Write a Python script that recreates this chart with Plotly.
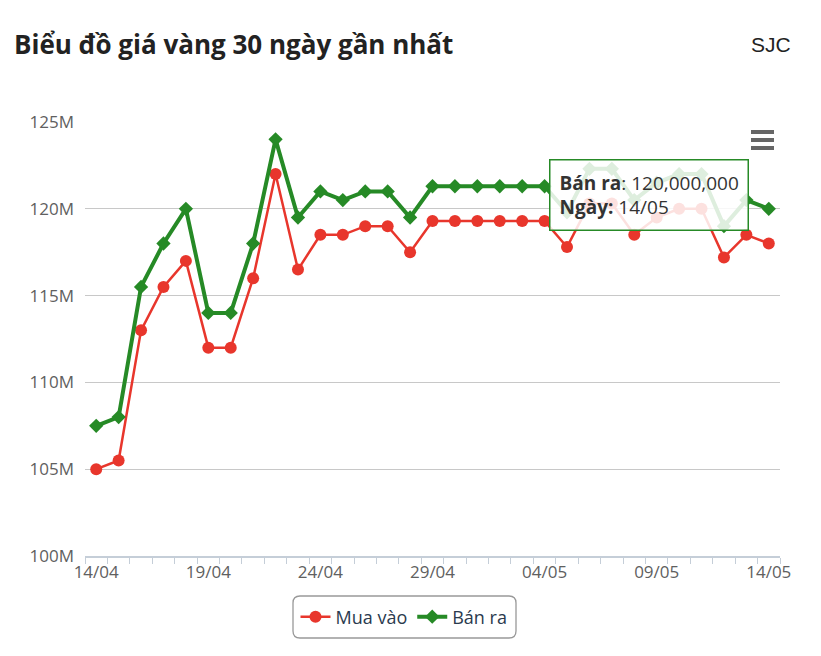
import plotly.graph_objects as go
import pandas as pd

# Data, values in million VND
dates = pd.date_range("2025-04-14", "2025-05-14", freq="D")

mua_vao = [
    105.0, 105.5, 113.0, 115.5, 117.0, 112.0, 112.0, 116.0, 122.0, 116.5,
    118.5, 118.5, 119.0, 119.0, 117.5, 119.3, 119.3, 119.3, 119.3, 119.3,
    119.3, 117.8, 120.3, 120.3, 118.5, 119.5, 120.0, 120.0, 117.2, 118.5,
    118.0,
]
ban_ra = [
    107.5, 108.0, 115.5, 118.0, 120.0, 114.0, 114.0, 118.0, 124.0, 119.5,
    121.0, 120.5, 121.0, 121.0, 119.5, 121.3, 121.3, 121.3, 121.3, 121.3,
    121.3, 119.8, 122.3, 122.3, 120.5, 121.5, 122.0, 122.0, 119.0, 120.5,
    120.0,
]
mua_vao = [v * 1e6 for v in mua_vao]
ban_ra = [v * 1e6 for v in ban_ra]

tick_dates = dates[::5]
y_ticks = [100e6, 105e6, 110e6, 115e6, 120e6, 125e6]

RED = "#e8362c"
GREEN = "#268a26"
FONT = "Open Sans"

# page has an 8px body margin; plot area in screen px: x 85..780, y 122..556
def px_x(X):
    return (X - 85) / 695

def px_y(Y):
    return (556 - Y) / 434

fig = go.Figure()
fig.add_trace(go.Scatter(
    x=dates, y=mua_vao, name="Mua vào", mode="lines+markers",
    line=dict(color=RED, width=2.5),
    marker=dict(symbol="circle", size=12, color=RED),
))
fig.add_trace(go.Scatter(
    x=dates, y=ban_ra, name="Bán ra", mode="lines+markers",
    line=dict(color=GREEN, width=4),
    marker=dict(symbol="diamond", size=11, color=GREEN),
))

half_day = pd.Timedelta(hours=12)
fig.update_xaxes(
    range=[dates[0] - half_day, dates[-1] + half_day],
    tickvals=tick_dates,
    tickformat="%d/%m",
    ticks="",
    showgrid=False,
    showline=True, linecolor="#c5ced8", linewidth=2,
    tickfont=dict(family=FONT, size=17, color="#606060"),
    minor=dict(ticks="outside", tick0=dates[0] - half_day, dtick=86400000,
               ticklen=6, tickcolor="#c5ced8", showgrid=False),
)
fig.update_yaxes(
    range=[100e6, 125e6],
    tickvals=y_ticks,
    tickformat="~s",
    showgrid=True, gridcolor="#c8c8c8", gridwidth=1,
    zeroline=False,
    tickfont=dict(family=FONT, size=17, color="#606060"),
    ticks="", ticklabelstandoff=10,
)

# hamburger menu icon
for y0 in [132, 140, 148]:
    fig.add_shape(type="line", xref="paper", yref="paper",
                  x0=px_x(751), x1=px_x(774), y0=px_y(y0), y1=px_y(y0),
                  line=dict(color="#666666", width=4))

# tooltip as shown on the reference
fig.add_annotation(
    xref="paper", yref="paper", x=px_x(648.5), y=px_y(194.5),
    xanchor="center", yanchor="middle",
    text="<b>Bán ra</b>: 120,000,000<br><b>Ngày:</b> 14/05",
    showarrow=False, align="left",
    font=dict(family=FONT, size=19, color="#333333"),
    bgcolor="rgba(255,255,255,0.85)", bordercolor=GREEN, borderwidth=1.5,
    borderpad=9,
)

# rounded legend frame
x0, x1, y0, y1 = px_x(293), px_x(516), px_y(638), px_y(596)
rx, ry = 7 / 695, 7 / 434
frame = (
    f"M {x0 + rx} {y0} L {x1 - rx} {y0} Q {x1} {y0} {x1} {y0 + ry} "
    f"L {x1} {y1 - ry} Q {x1} {y1} {x1 - rx} {y1} "
    f"L {x0 + rx} {y1} Q {x0} {y1} {x0} {y1 - ry} "
    f"L {x0} {y0 + ry} Q {x0} {y0} {x0 + rx} {y0} Z"
)
fig.add_shape(type="path", xref="paper", yref="paper", path=frame,
              line=dict(color="#999999", width=1.3))

fig.add_annotation(
    text="SJC", xref="paper", yref="paper",
    x=px_x(793), xanchor="right", y=px_y(45), yanchor="middle",
    showarrow=False, font=dict(family="Liberation Sans", size=21, color="#222222"),
)

fig.update_layout(
    width=805, height=640,
    margin=dict(l=77, r=33, t=114, b=92),
    paper_bgcolor="white", plot_bgcolor="white",
    font=dict(family=FONT),
    title=dict(text="<b>Biểu đồ giá vàng 30 ngày gần nhất</b>",
               x=6 / 805, xanchor="left", y=1 - 37 / 640, yanchor="middle",
               font=dict(family=FONT, size=26, color="#222222")),
    showlegend=True,
    legend=dict(orientation="h", x=px_x(404), xanchor="center",
                y=px_y(617), yanchor="middle",
                font=dict(family=FONT, size=18, color="#2a3a4e"),
                bgcolor="rgba(0,0,0,0)", itemwidth=30),
)

fig.write_html("out.html")
